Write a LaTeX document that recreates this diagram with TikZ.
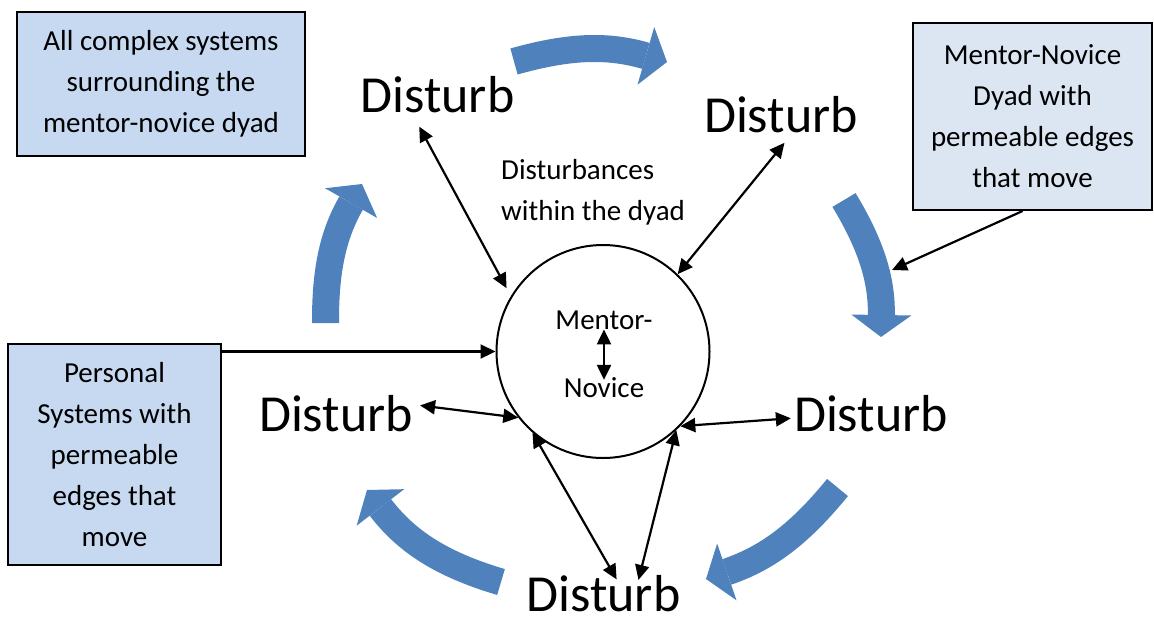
\documentclass[tikz,border=0pt]{standalone}
\usepackage{fontspec}
\setmainfont{Carlito}
\usetikzlibrary{arrows.meta}
\definecolor{flowblue}{HTML}{4F81BD}
\definecolor{boxblue}{HTML}{C6D9F1}
\definecolor{boxpale}{HTML}{DCE6F2}

\begin{document}
\begin{tikzpicture}[x=1pt,y=-1pt,
  >={Triangle[length=15pt,width=14pt]},
  link/.style={draw, line width=2.2pt},
  disturb/.style={font=\fontsize{52}{60}\selectfont, inner sep=0pt},
  smalltext/.style={font=\fontsize{29}{41}\selectfont, inner sep=0pt},
  infobox/.style={draw, line width=2pt, font=\fontsize{29}{41}\selectfont,
    align=center, inner sep=0pt},
  flow/.style={draw=flowblue, line width=27pt,
    arrows={-Triangle[length=22pt,width=60pt,line width=0pt]}}
]
\useasboundingbox (0,0) rectangle (1154,619);

% the cycle of disturbances around the dyad
\draw[flow] (514,61.5) to[bend left=16] (667,62);
\draw[flow] (844,200) to[bend left=16] (881,337);
\draw[flow] (837.5,487.5) to[bend left=16] (706,579);
\draw[flow] (501,582) to[bend left=18] (367,490);
\draw[flow] (325.5,323) to[bend left=15] (362,184);

% explanatory boxes
\node[infobox, fill=boxblue, minimum width=288pt, minimum height=144pt] (bTL)
  at (161,84) {All complex systems\\surrounding the\\mentor-novice dyad};
\node[infobox, fill=boxpale, minimum width=239pt, minimum height=187pt] (bTR)
  at (1032.5,116.5) {Mentor-Novice\\Dyad with\\permeable edges\\that move};
\node[infobox, fill=boxblue, minimum width=213pt, minimum height=221pt] (bL)
  at (114.5,454.5) {Personal\\Systems with\\permeable\\edges that\\move};

% the dyad
\node[draw, circle, line width=2pt, minimum size=213pt, inner sep=0pt] (c)
  at (603,351.5) {};
\node[smalltext, anchor=base] (m) at (604,329) {Mentor-};
\node[smalltext, anchor=base] (n) at (604,397) {Novice};
\draw[link, <->, shorten >=-3pt] (m.south) -- (m.south |- n.north);

\node[smalltext, align=left, anchor=north west] (dz) at (501,159)
  {Disturbances\\within the dyad};

% disturbances
\node[disturb] (d1) at (437.5,95) {Disturb};
\node[disturb] (d2) at (781,115) {Disturb};
\node[disturb] (d3) at (871,414) {Disturb};
\node[disturb] (d4) at (603.5,593.5) {Disturb};
\node[disturb] (d5) at (336,414) {Disturb};

\draw[link, <->, shorten <=15pt, shorten >=9pt] (d1.216) -- (c.149);
\draw[link, <->, shorten <=12pt] (d2.301) -- (c.46);
\draw[link, <->, shorten <=7pt] (d5.7) -- (c.218);
\draw[link, <->, shorten >=3pt] (c.-44) -- (d3.183);
\draw[link, <->, shorten >=-5pt] (c.229) -- (d4.60);
\draw[link, <->, shorten >=-5pt] (c.-47) -- (d4.27);

% pointers from the boxes
\coordinate (rimR) at (892,270);
\draw[link, ->] (bTR.264) -- (rimR);
\draw[link, ->] (c.west -| bL.east) -- (c.west);
\end{tikzpicture}
\end{document}
